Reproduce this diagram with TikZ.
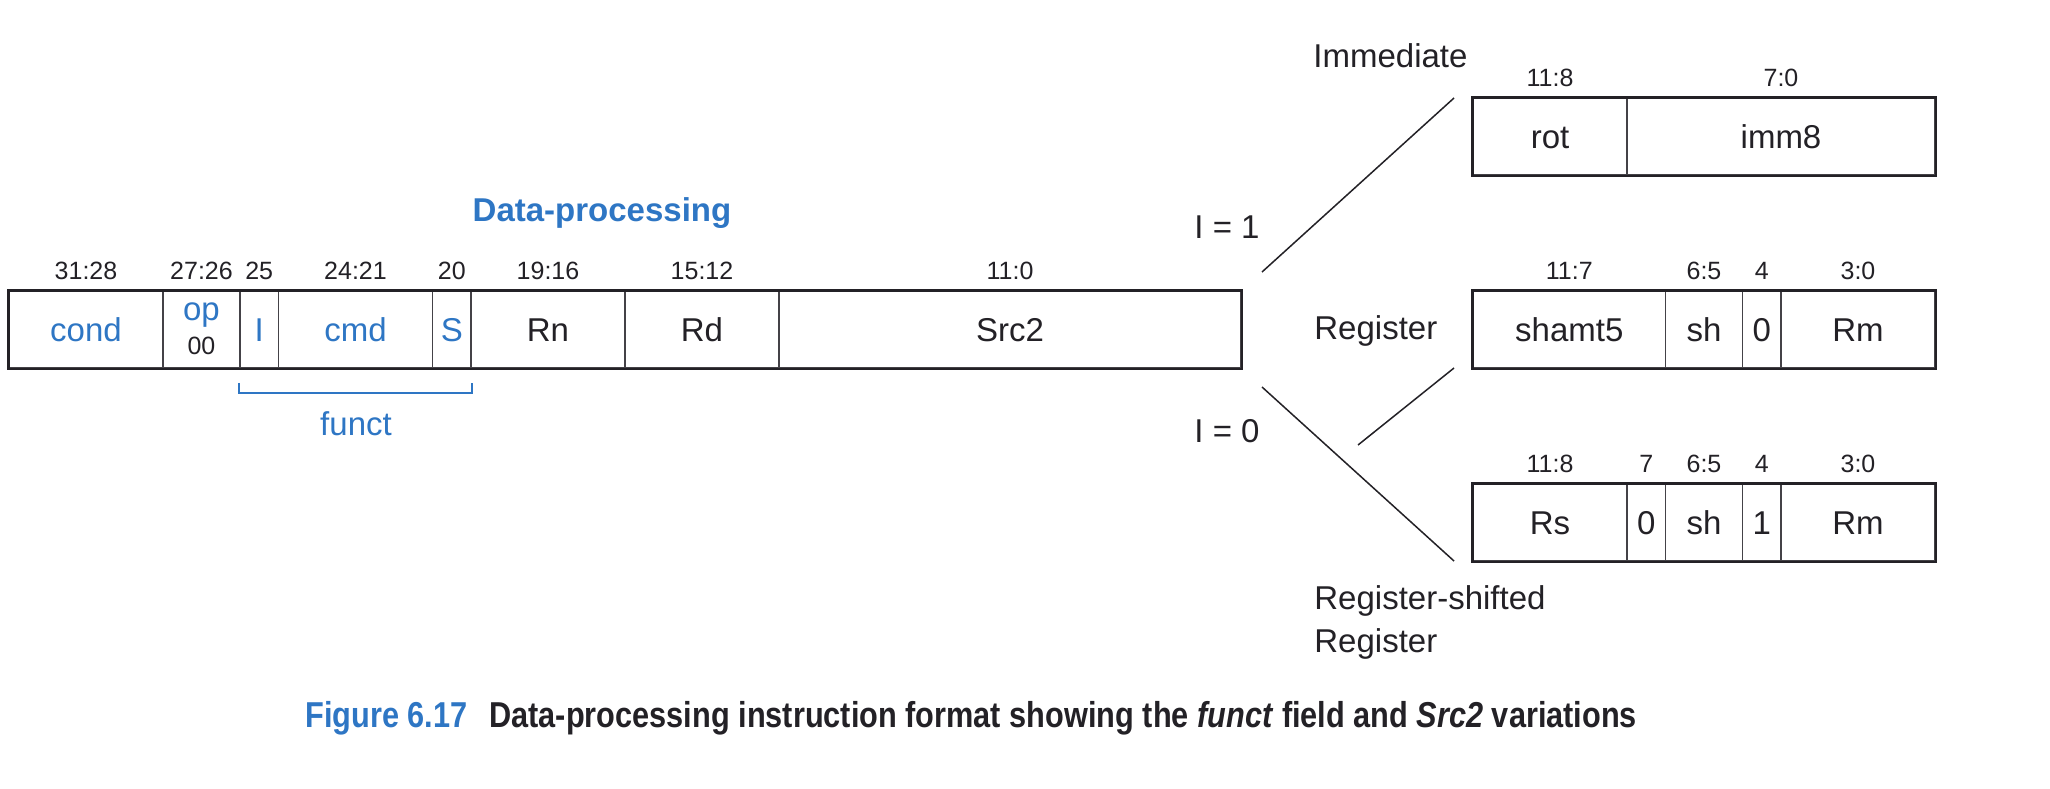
\documentclass[tikz,border=0pt]{standalone}
\usepackage{fontspec}
\setmainfont{Liberation Sans}
\usepackage{graphicx}
\definecolor{fblue}{RGB}{46,118,196}
\definecolor{ink}{RGB}{35,33,38}
\begin{document}
\begin{tikzpicture}[x=0.5pt,y=-0.5pt,
  field/.style={draw=ink!85, line width=0.75pt, inner sep=0pt, minimum height=38.5pt,
    text=ink, font=\fontsize{16.5}{19}\selectfont, text height=11.9pt, text depth=0pt},
  bfield/.style={field, text=fblue},
  bits/.style={inner sep=0pt, text=ink, font=\fontsize{12.5}{14}\selectfont, text height=9pt, text depth=0pt},
  frame/.style={draw=ink, line width=1.25pt},
  lbl/.style={inner sep=0pt, text=ink, font=\fontsize{16.5}{21.5}\selectfont},
  conn/.style={draw=ink, line width=0.75pt},
  bracket/.style={draw=fblue, line width=0.8pt}]
\useasboundingbox[fill=white] (0,0) rectangle (2050,788);

% ---- main instruction format ----
\node[bfield, minimum width=77pt]    (cond) at (86,329.5) {cond};
\node[field,  minimum width=38.5pt]  (op)   at (201.5,329.5) {};
\node[bfield, minimum width=19.25pt] (I)    at (259.25,329.5) {I};
\node[bfield, minimum width=77pt]    (cmd)  at (355.5,329.5) {cmd};
\node[bfield, minimum width=19.25pt] (S)    at (451.75,329.5) {S};
\node[field,  minimum width=77pt]    (Rn)   at (548,329.5) {Rn};
\node[field,  minimum width=77pt]    (Rd)   at (702,329.5) {Rd};
\node[field,  minimum width=231pt]   (Src2) at (1010,329.5) {Src2};
\draw[frame] (cond.north west) rectangle (Src2.south east);

\node[lbl, text=fblue, anchor=base] (opname) at (201.5,320) {op};
\node[bits, anchor=base, text height=, text depth=] (opval) at (201.5,354) {00};

\node[bits] (bcond) at ([yshift=9.75pt]cond.north) {31:28};
\node[bits] (bop)   at ([yshift=9.75pt]op.north)   {27:26};
\node[bits] (bI)    at ([yshift=9.75pt]I.north)    {25};
\node[bits] (bcmd)  at ([yshift=9.75pt]cmd.north)  {24:21};
\node[bits] (bS)    at ([yshift=9.75pt]S.north)    {20};
\node[bits] (bRn)   at ([yshift=9.75pt]Rn.north)   {19:16};
\node[bits] (bRd)   at ([yshift=9.75pt]Rd.north)   {15:12};
\node[bits] (bSrc)  at ([yshift=9.75pt]Src2.north) {11:0};

\node[lbl, text=fblue, font=\fontsize{16.5}{19}\selectfont\bfseries, anchor=base] (title) at (602,221) {Data-processing};

\draw[bracket] ([yshift=-7pt]I.south west) -- ([yshift=-12pt]I.south west)
  -- ([yshift=-12pt]S.south east) -- ([yshift=-7pt]S.south east);
\node[lbl, text=fblue, anchor=base] (funct) at (356,435) {funct};

% ---- Immediate ----
\node[field, minimum width=77pt]  (rot)  at (1550,136.5) {rot};
\node[field, minimum width=154pt] (imm8) at (1781,136.5) {imm8};
\draw[frame] (rot.north west) rectangle (imm8.south east);
\node[bits] (brot)  at ([yshift=9.75pt]rot.north)  {11:8};
\node[bits] (bimm8) at ([yshift=9.75pt]imm8.north) {7:0};

% ---- Register ----
\node[field, minimum width=96.25pt] (shamt) at (1569.25,329.5) {shamt5};
\node[field, minimum width=38.5pt]  (shA)   at (1704,329.5) {sh};
\node[field, minimum width=19.25pt] (zA)    at (1761.75,329.5) {0};
\node[field, minimum width=77pt]    (RmA)   at (1858,329.5) {Rm};
\draw[frame] (shamt.north west) rectangle (RmA.south east);
\node[bits] (bshamt) at ([yshift=9.75pt]shamt.north) {11:7};
\node[bits] (bshA)   at ([yshift=9.75pt]shA.north)   {6:5};
\node[bits] (bzA)    at ([yshift=9.75pt]zA.north)    {4};
\node[bits] (bRmA)   at ([yshift=9.75pt]RmA.north)   {3:0};

% ---- Register-shifted Register ----
\node[field, minimum width=77pt]    (Rs)  at (1550,522.5) {Rs};
\node[field, minimum width=19.25pt] (zB)  at (1646.25,522.5) {0};
\node[field, minimum width=38.5pt]  (shB) at (1704,522.5) {sh};
\node[field, minimum width=19.25pt] (oB)  at (1761.75,522.5) {1};
\node[field, minimum width=77pt]    (RmB) at (1858,522.5) {Rm};
\draw[frame] (Rs.north west) rectangle (RmB.south east);
\node[bits] (bRs)  at ([yshift=9.75pt]Rs.north)  {11:8};
\node[bits] (bzB)  at ([yshift=9.75pt]zB.north)  {7};
\node[bits] (bshB) at ([yshift=9.75pt]shB.north) {6:5};
\node[bits] (boB)  at ([yshift=9.75pt]oB.north)  {4};
\node[bits] (bRmB) at ([yshift=9.75pt]RmB.north) {3:0};

% ---- connectors ----
\coordinate (i1a) at (1262,272);
\coordinate (i1b) at (1454,98);
\coordinate (i0a) at (1262,387);
\coordinate (i0b) at (1454,561);
\coordinate (rga) at (1358,445);
\coordinate (rgb) at (1454,368);
\draw[conn] (i1a) -- (i1b);
\draw[conn] (i0a) -- (i0b);
\draw[conn] (rga) -- (rgb);

% ---- labels ----
\node[lbl, anchor=base] (l1) at (1227,238) {I = 1};
\node[lbl, anchor=base] (l0) at (1227,442) {I = 0};
\node[lbl, anchor=base west] (limm) at (1313,67) {Immediate};
\node[lbl, anchor=base west] (lreg) at (1314,339) {Register};
\node[lbl, anchor=north west, align=left] (lrsr) at (1314,585) {Register-shifted\\Register};

% ---- caption ----
\node[anchor=base west, inner sep=0pt, text=ink] (caption) at (305,727)
  {\scalebox{0.853}[1]{\fontsize{18}{20}\selectfont\bfseries\textcolor{fblue}{Figure 6.17}\hspace{12.8pt}Data-processing instruction format showing the \textit{funct} field and \textit{Src2} variations}};
\end{tikzpicture}
\end{document}
